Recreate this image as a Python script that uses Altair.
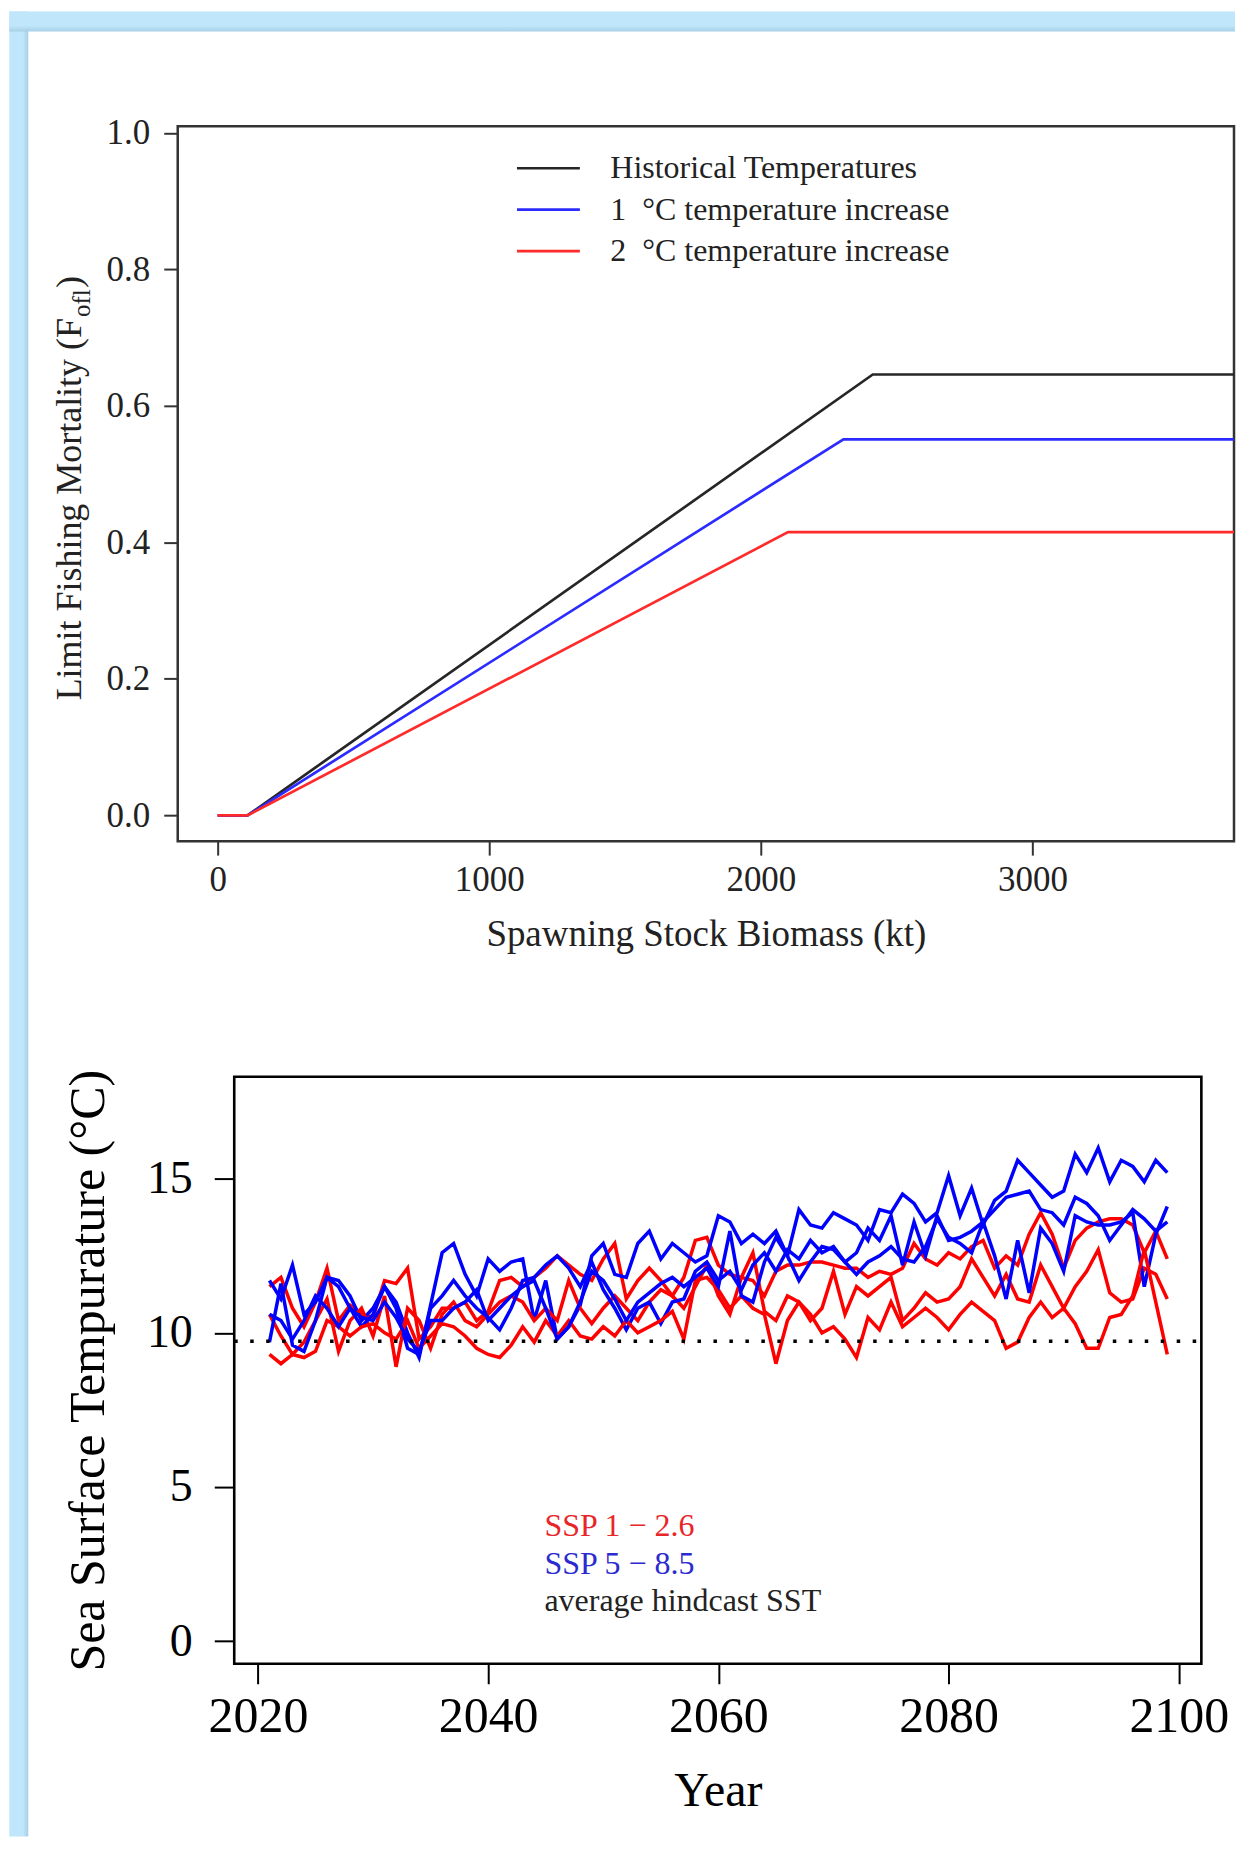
import altair as alt
import pandas as pd

FONT = "Liberation Serif"
BLUE_BG = "#bfe6fa"
BLUE_EDGE = "#a6d0e6"

# ---------------- Panel 1: limit fishing mortality vs SSB ----------------
hcr_labels = ["Historical Temperatures",
              "1\u00a0\u00a0°C temperature increase",
              "2\u00a0\u00a0°C temperature increase"]
hcr_colors = ["#262626", "#2b2bff", "#ff2b2b"]

ssb_hist = [0, 110, 2412, 3800]
f_hist = [0.0, 0.0, 0.646, 0.646]
ssb_1c = [0, 110, 2304, 3800]
f_1c = [0.0, 0.0, 0.551, 0.551]
ssb_2c = [0, 110, 2100, 3800]
f_2c = [0.0, 0.0, 0.415, 0.415]

x1_ticks = [0, 1000, 2000, 3000]
y1_ticks = [0.0, 0.2, 0.4, 0.6, 0.8, 1.0]
x1_domain = [-147, 3742]
y1_domain = [-0.0377, 1.0096]

# ---------------- Panel 2: sea surface temperature ----------------
years = list(range(2021, 2100))

ssp126_a = [11.5, 11.8, 10.8, 10.2, 11.0, 12.1, 10.4, 10.9, 10.6, 10.5, 11.7, 11.6, 12.1, 9.8, 10.2, 10.8, 10.8, 11.0, 10.4, 10.7, 11.7, 11.8, 11.5,
            11.8, 12.1, 12.5, 12.2, 11.9, 11.7, 12.4, 12.9, 11.1, 11.7, 12.1, 11.7, 11.2, 11.8, 13.0, 13.1, 12.2, 11.9, 11.8, 11.7, 11.2, 12.0, 12.2, 12.2, 12.3, 12.3, 12.2, 12.1, 12.1,
            11.8, 12.0, 11.9, 12.1, 12.9, 12.4, 12.2, 12.6, 12.4, 12.8, 13.0, 12.1, 12.5, 12.2, 13.2, 13.9, 13.2, 12.1, 13.0, 13.4, 13.6, 13.7, 13.7, 13.5, 12.6, 13.3, 12.4]
ssp126_b = [10.6, 9.9, 9.3, 9.7, 10.4, 11.1, 9.4, 10.4, 10.8, 9.9, 11.2, 8.9, 10.8, 10.4, 9.5, 10.6, 11.0, 10.4, 10.2, 10.6, 11.0, 11.2, 11.0,
            10.4, 10.8, 10.4, 11.7, 10.8, 10.3, 10.8, 11.2, 10.8, 10.4, 11.0, 11.4, 11.2, 10.8, 11.5, 12.2, 11.2, 10.6, 11.8, 12.6, 10.7, 10.4, 11.2, 11.0, 10.4, 10.8, 12.0, 10.6, 11.5,
            11.2, 11.5, 11.8, 10.4, 10.8, 11.3, 11.0, 11.1, 11.5, 12.4, 11.8, 11.2, 11.9, 11.1, 11.0, 12.2, 11.5, 10.8, 11.5, 12.0, 12.7, 11.3, 11.0, 11.1, 12.1, 11.9, 11.1]
ssp126_c = [9.3, 9.0, 9.3, 9.2, 9.4, 10.4, 10.2, 9.9, 10.2, 10.3, 10.0, 9.8, 10.4, 9.5, 9.9, 10.3, 10.2, 9.9, 9.5, 9.3, 9.2, 9.6, 10.2,
            9.7, 10.4, 9.9, 10.4, 9.9, 9.8, 10.2, 9.9, 10.4, 10.0, 10.2, 10.4, 10.7, 9.8, 11.7, 11.8, 11.4, 10.8, 11.2, 10.8, 10.6, 9.0, 10.4, 11.0, 10.6, 10.0, 10.2, 9.8, 9.2,
            10.5, 10.1, 11.0, 10.2, 10.5, 10.8, 10.5, 10.1, 10.6, 11.0, 10.7, 10.4, 9.5, 9.7, 10.5, 11.0, 10.5, 10.8, 10.3, 9.5, 9.5, 10.5, 10.6, 11.2, 12.7, 11.0, 9.3]
ssp585_a = [11.7, 11.1, 12.2, 10.6, 11.0, 11.8, 11.7, 11.2, 10.4, 10.8, 11.5, 11.0, 10.0, 9.2, 10.9, 12.6, 12.9, 11.9, 11.2, 12.4, 12.0, 12.3, 12.4,
            10.4, 11.7, 9.8, 10.2, 10.9, 12.5, 12.9, 11.9, 11.8, 12.9, 13.3, 12.4, 12.9, 12.6, 12.3, 12.5, 13.8, 13.6, 12.9, 13.2, 12.9, 13.3, 12.5, 14.0, 13.5, 13.4, 13.9, 13.7, 13.5,
            13.0, 14.0, 13.9, 14.5, 14.2, 13.6, 13.9, 15.1, 13.8, 14.7, 13.5, 14.3, 14.6, 15.6, 15.2, 14.8, 14.4, 14.6, 15.8, 15.2, 16.0, 14.9, 15.6, 15.4, 14.9, 15.6, 15.2]
ssp585_b = [9.7, 11.6, 9.6, 9.4, 10.4, 11.8, 11.5, 10.8, 10.2, 10.6, 11.5, 10.8, 9.5, 9.3, 10.8, 11.2, 11.7, 11.2, 10.8, 10.5, 10.1, 10.8, 11.7,
            11.8, 12.2, 12.5, 12.1, 11.5, 12.3, 11.4, 10.8, 10.1, 10.8, 11.0, 10.3, 11.0, 11.1, 12.0, 12.3, 11.7, 12.0, 11.4, 12.2, 12.6, 12.0, 12.7, 12.4, 13.0, 12.6, 12.8, 12.3, 11.9,
            12.3, 12.5, 12.8, 12.4, 12.3, 12.8, 13.7, 13.1, 12.9, 12.6, 13.6, 12.5, 11.1, 13.0, 11.3, 13.4, 12.9, 12.0, 13.8, 13.6, 13.5, 13.5, 13.6, 13.9, 11.5, 13.2, 14.1]
ssp585_c = [10.6, 10.4, 9.8, 10.4, 11.2, 10.8, 10.2, 10.8, 10.5, 10.4, 11.0, 10.5, 9.8, 9.4, 10.4, 10.4, 10.8, 11.0, 11.4, 10.4, 10.8, 11.2, 11.5,
            11.7, 10.8, 9.8, 10.2, 11.0, 12.0, 11.7, 11.1, 10.4, 11.0, 11.3, 11.6, 11.8, 11.5, 11.8, 12.1, 11.5, 13.3, 11.2, 11.0, 12.3, 13.1, 12.5, 11.7, 12.3, 12.8, 12.7, 12.3, 12.6,
            13.4, 13.0, 13.8, 12.2, 13.6, 12.5, 13.8, 13.0, 13.1, 13.3, 13.6, 14.0, 14.4, 14.5, 14.6, 14.0, 13.9, 13.5, 14.4, 14.2, 13.8, 13.0, 13.5, 14.0, 13.7, 13.3, 13.6]

hindcast_sst = [9.73]
sst_legend = ["SSP 1 \u2212 2.6", "SSP 5 \u2212 8.5", "average hindcast SST"]
sst_legend_colors = ["#e8262a", "#2b2bd0", "#222222"]
red, blue = "#ff0000", "#0000ff"

x2_ticks = [2020, 2040, 2060, 2080, 2100]
y2_ticks = [0, 5, 10, 15]
x2_domain = [2017.94, 2101.96]
y2_domain = [-0.735, 18.31]

# ---------------- geometry (pixels) ----------------
W1, H1 = 1058, 716            # panel 1 plot area
W2, H2 = 1025.3, 588          # panel 2 view (frame starts 56.6 px in)
X2_RANGE = [56.6, 1025.3]
GAP = 236                     # distance between the two plot areas
one = pd.DataFrame({"k": [0]})


def strip(x0, x1, y0, y1, horizontal):
    grad = alt.Gradient(
        gradient="linear",
        stops=[alt.GradientStop(color=BLUE_BG, offset=0),
               alt.GradientStop(color=BLUE_BG, offset=0.72),
               alt.GradientStop(color=BLUE_EDGE, offset=1)],
        x1=0, y1=0, x2=1 if horizontal else 0, y2=0 if horizontal else 1)
    return alt.Chart(one).mark_rect(color=grad).encode(
        x=alt.value(x0), x2=alt.value(x1), y=alt.value(y0), y2=alt.value(y1))


# ---------------- panel 1 ----------------
rows = []
for lab, xs, ys in zip(hcr_labels, [ssb_hist, ssb_1c, ssb_2c], [f_hist, f_1c, f_2c]):
    for a, b in zip(xs, ys):
        rows.append({"series": lab, "ssb": a, "f": b})
df1 = pd.DataFrame(rows)

x1 = alt.X("ssb:Q", scale=alt.Scale(domain=x1_domain, nice=False, zero=False),
           axis=alt.Axis(values=x1_ticks, format="d", title="Spawning Stock Biomass (kt)",
                         domain=False, grid=False, tickSize=14, tickWidth=2, tickColor="#333",
                         labelFont=FONT, labelFontSize=35, labelColor="#222", labelPadding=7,
                         labelFlush=False, labelOverlap=False,
                         titleFont=FONT, titleFontSize=37, titleFontWeight="normal",
                         titleColor="#222", titlePadding=20))
y1 = alt.Y("f:Q", scale=alt.Scale(domain=y1_domain, nice=False, zero=False),
           axis=alt.Axis(values=y1_ticks, format=".1f", title=None,
                         domain=False, grid=False, tickSize=14, tickWidth=2, tickColor="#333",
                         labelFont=FONT, labelFontSize=35, labelColor="#222", labelPadding=14,
                         labelFlush=False, labelOverlap=False))
color1 = alt.Color("series:N", scale=alt.Scale(domain=hcr_labels, range=hcr_colors),
                   legend=alt.Legend(title=None, orient="none", legendX=338.3, legendY=27,
                                     symbolType="stroke", symbolSize=3969, symbolStrokeWidth=2.7,
                                     clipHeight=30, rowPadding=9.5, padding=0, offset=0,
                                     labelFont=FONT, labelFontSize=32, labelColor="#222",
                                     labelOffset=29, labelLimit=0))

line_layers = [
    alt.Chart(df1).transform_filter(alt.datum.series == lab)
    .mark_line(strokeWidth=2.7, clip=True).encode(x=x1, y=y1, color=color1)
    for lab in hcr_labels
]

ytitle = [
    alt.Chart(one).mark_text(angle=270, align="left", baseline="alphabetic", font=FONT,
                             fontSize=36, color="#222").encode(
        x=alt.value(-96.7), y=alt.value(575), text=alt.value("Limit Fishing Mortality (F")),
    alt.Chart(one).mark_text(angle=270, align="left", baseline="alphabetic", font=FONT,
                             fontSize=25, color="#222").encode(
        x=alt.value(-87.7), y=alt.value(191), text=alt.value("ofl")),
    alt.Chart(one).mark_text(angle=270, align="left", baseline="alphabetic", font=FONT,
                             fontSize=36, color="#222").encode(
        x=alt.value(-96.7), y=alt.value(162), text=alt.value(")")),
]

top = alt.layer(
    strip(-168.7, -149.7, -115, 1713, True),
    strip(-168.7, W1 + 1, -115, -95, False),
    *line_layers, *ytitle
).properties(width=W1, height=H1,
             view=alt.ViewBackground(stroke="#333", strokeWidth=2.5, fill="white"))

# ---------------- panel 2 ----------------
series2 = [("r1", ssp126_a, red), ("b1", ssp585_a, blue), ("r2", ssp126_b, red),
           ("b2", ssp585_b, blue), ("r3", ssp126_c, red), ("b3", ssp585_c, blue)]
rows = []
for name, vals, _ in series2:
    for yr, v in zip(years, vals):
        rows.append({"run": name, "year": yr, "sst": v})
df2 = pd.DataFrame(rows)

x2 = alt.X("year:Q", scale=alt.Scale(domain=x2_domain, range=X2_RANGE, nice=False, zero=False),
           axis=alt.Axis(values=x2_ticks, format="d", title="Year",
                         domain=False, grid=False, tickSize=20, tickWidth=2, tickColor="black",
                         labelFont=FONT, labelFontSize=50, labelColor="black", labelPadding=8,
                         labelFlush=False, labelOverlap=False,
                         titleFont=FONT, titleFontSize=48, titleFontWeight="normal",
                         titleColor="black", titlePadding=26, titleX=541, titleAlign="center"))
y2 = alt.Y("sst:Q", scale=alt.Scale(domain=y2_domain, nice=False, zero=False),
           axis=alt.Axis(values=y2_ticks, format="d", title="Sea Surface Tempurature (°C)",
                         domain=False, grid=False, tickSize=20, tickWidth=2, tickColor="black",
                         labelFont=FONT, labelFontSize=46, labelColor="black", labelPadding=22,
                         labelFlush=False, labelOverlap=False, offset=-56.6,
                         titleFont=FONT, titleFontSize=50, titleFontWeight="normal",
                         titleColor="black", titlePadding=33))

frame2 = alt.Chart(one).mark_rect(fillOpacity=0, stroke="black", strokeWidth=2.6).encode(
    x=alt.datum(x2_domain[0]), x2=alt.datum(x2_domain[1]),
    y=alt.datum(y2_domain[0]), y2=alt.datum(y2_domain[1]))

sst_layers = [
    alt.Chart(df2).transform_filter(alt.datum.run == name)
    .mark_line(strokeWidth=3.5, color=col).encode(x=x2, y=y2)
    for name, _, col in series2
]

hind = alt.Chart(pd.DataFrame({"sst": hindcast_sst})).mark_rule(
    color="black", strokeWidth=3.5, strokeDash=[3.5, 12.5]).encode(
    y=y2, x=alt.datum(x2_domain[0]), x2=alt.datum(x2_domain[1]))

leg_y = [460, 498, 535]
leg2 = [
    alt.Chart(one).mark_text(align="left", baseline="alphabetic", font=FONT, fontSize=32,
                             color=c).encode(x=alt.value(367.3), y=alt.value(yy), text=alt.value(t))
    for t, c, yy in zip(sst_legend, sst_legend_colors, leg_y)
]

bottom = alt.layer(
    *sst_layers, hind, frame2, *leg2
).properties(width=W2, height=H2,
             view=alt.ViewBackground(stroke="transparent", fill="white"))

chart = alt.ConcatChart(concat=[top, bottom], columns=1, spacing=GAP, align="none",
                        bounds="flush", padding=0, background="white")

chart.save("out.html", embed_options={"renderer": "svg", "actions": False})
